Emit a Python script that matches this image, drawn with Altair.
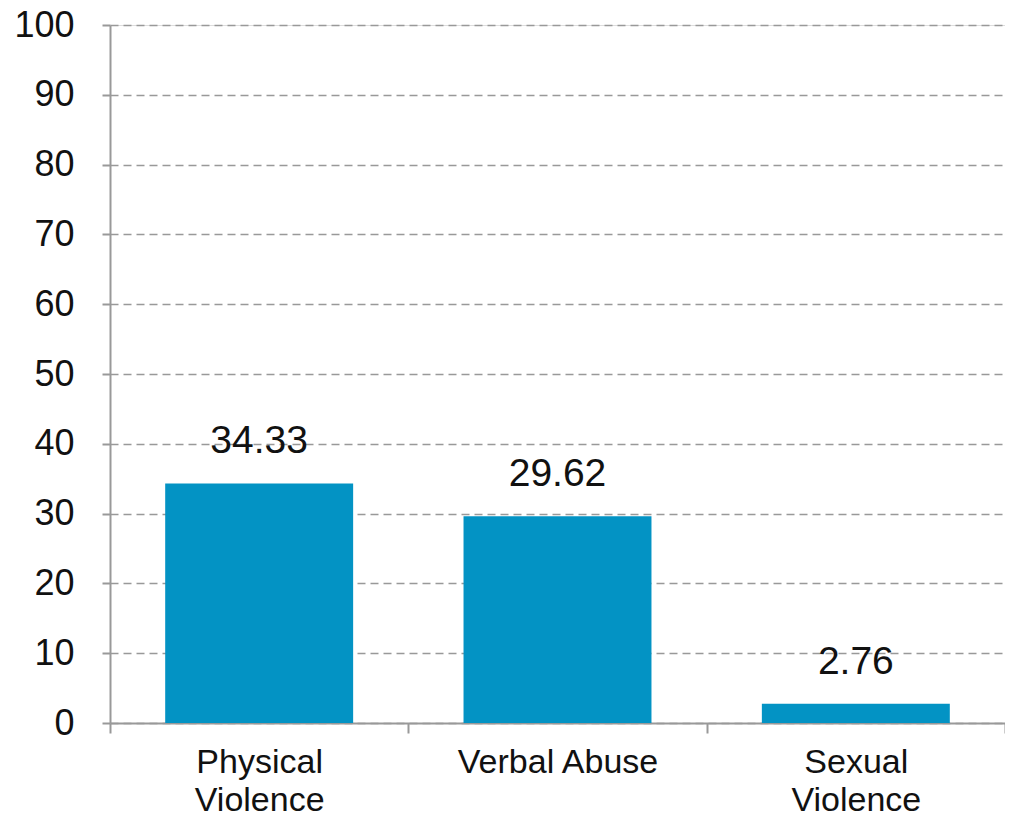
import altair as alt
import pandas as pd

categories = ["Physical Violence", "Verbal Abuse", "Sexual Violence"]
values = [34.33, 29.62, 2.76]
y_ticks = [0, 10, 20, 30, 40, 50, 60, 70, 80, 90, 100]

df = pd.DataFrame({"category": categories, "value": values})

FONT = "Liberation Sans"
W, H = 895, 698

x_enc = alt.X(
    "category:N",
    sort=categories,
    scale=alt.Scale(paddingInner=0, paddingOuter=0),
    axis=alt.Axis(
        title=None,
        labelAngle=0,
        labelFont=FONT,
        labelFontSize=34,
        labelColor="#111111",
        labelPadding=12,
        labelLineHeight=38,
        labelLimit=0,
        labelExpr="datum.label == 'Verbal Abuse' ? datum.label : split(datum.label, ' ')",
        tickBand="extent",
        tickSize=10,
        tickColor="#999999",
        tickWidth=2,
        domainColor="#999999",
        domainWidth=2,
        grid=False,
    ),
)

y_enc = alt.Y(
    "value:Q",
    scale=alt.Scale(domain=[0, 100], nice=False),
    axis=alt.Axis(
        title=None,
        values=y_ticks,
        labelFont=FONT,
        labelFontSize=36,
        labelColor="#111111",
        labelPadding=28,
        tickSize=8,
        tickColor="#999999",
        tickWidth=2,
        domainColor="#999999",
        domainWidth=2,
        grid=True,
        gridColor="#999999",
        gridWidth=1.5,
        gridDash=[8, 5],
    ),
)

bars = alt.Chart(df).mark_bar(
    color="#0393C4", width=alt.RelativeBandSize(0.63)
).encode(x=x_enc, y=y_enc)

labels = alt.Chart(df).mark_text(
    font=FONT, fontSize=39, color="#111111", baseline="middle", dy=-42
).encode(
    x=alt.X("category:N", sort=categories),
    y=alt.Y("value:Q"),
    text=alt.Text("value:Q", format=".2f"),
)

chart = (
    alt.layer(bars, labels)
    .properties(
        width=W,
        height=H,
        autosize=alt.AutoSizeParams(type="none"),
        padding={"left": 102, "top": 17, "right": 0, "bottom": 90},
    )
    .configure_view(stroke=None)
    .configure(background="white")
)

chart.save("out.html", embed_options={"renderer": "svg", "actions": False})
